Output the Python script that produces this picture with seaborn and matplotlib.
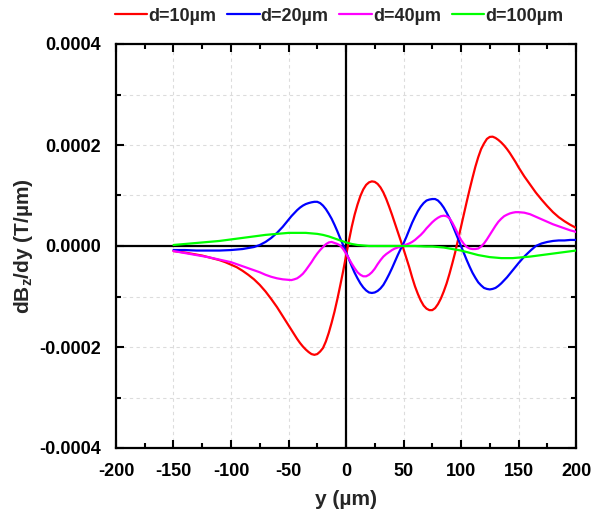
import numpy as np
import pandas as pd
import matplotlib
matplotlib.use("Agg")
import matplotlib.pyplot as plt
import seaborn as sns
from matplotlib.ticker import MultipleLocator, FuncFormatter

# ---- data (values in units of 1e-4 T/um) ----
x_um = [-150, -145, -140, -135, -130, -125, -120, -115, -110, -105,
        -100, -95, -90, -85, -80, -75, -70, -65, -60, -55,
        -50, -47.5, -45, -42.5, -40, -37.5, -35, -32.5, -30, -27.5,
        -25, -22.5, -20, -17.5, -15, -12.5, -10, -7.5, -5, -2.5,
        0, 2.5, 5, 7.5, 10, 12.5, 15, 17.5, 20, 22.5,
        25, 27.5, 30, 32.5, 35, 37.5, 40, 42.5, 45, 47.5,
        50, 52.5, 55, 57.5, 60, 62.5, 65, 67.5, 70, 72.5,
        75, 77.5, 80, 82.5, 85, 87.5, 90, 92.5, 95, 97.5,
        100, 102.5, 105, 107.5, 110, 112.5, 115, 117.5, 120, 122.5,
        125, 127.5, 130, 132.5, 135, 137.5, 140, 142.5, 145, 147.5,
        150, 155, 160, 165, 170, 175, 180, 185, 190, 195, 200]

d10 = [-0.10, -0.115, -0.13, -0.15, -0.17, -0.19, -0.22, -0.25, -0.28, -0.32,
       -0.37, -0.42, -0.49, -0.57, -0.66, -0.77, -0.90, -1.05, -1.21, -1.39,
       -1.57, -1.66, -1.75, -1.84, -1.92, -1.99, -2.05, -2.10, -2.14, -2.155,
       -2.14, -2.09, -2.02, -1.89, -1.72, -1.52, -1.30, -1.05, -0.78, -0.50,
       -0.20, 0.10, 0.38, 0.62, 0.82, 0.99, 1.12, 1.21, 1.26, 1.28,
       1.27, 1.23, 1.16, 1.06, 0.93, 0.78, 0.62, 0.45, 0.28, 0.11,
       -0.06, -0.24, -0.42, -0.62, -0.80, -0.95, -1.08, -1.18, -1.24, -1.27,
       -1.27, -1.23, -1.15, -1.04, -0.90, -0.74, -0.55, -0.34, -0.12, 0.13,
       0.38, 0.63, 0.88, 1.12, 1.35, 1.57, 1.76, 1.92, 2.03, 2.12,
       2.16, 2.165, 2.14, 2.10, 2.05, 1.99, 1.92, 1.84, 1.75, 1.66,
       1.56, 1.38, 1.22, 1.06, 0.92, 0.79, 0.67, 0.57, 0.49, 0.42, 0.36]

d20 = [-0.08, -0.08, -0.08, -0.085, -0.09, -0.09, -0.09, -0.09, -0.09, -0.085,
       -0.08, -0.07, -0.06, -0.04, -0.02, 0.02, 0.08, 0.16, 0.26, 0.38,
       0.52, 0.59, 0.65, 0.71, 0.76, 0.80, 0.83, 0.85, 0.865, 0.875,
       0.875, 0.85, 0.80, 0.73, 0.64, 0.54, 0.42, 0.29, 0.15, 0.02,
       -0.12, -0.26, -0.40, -0.53, -0.64, -0.74, -0.82, -0.88, -0.92, -0.93,
       -0.92, -0.89, -0.84, -0.77, -0.67, -0.56, -0.44, -0.31, -0.18, -0.06,
       0.05, 0.18, 0.32, 0.46, 0.58, 0.69, 0.78, 0.85, 0.90, 0.92,
       0.93, 0.93, 0.90, 0.84, 0.76, 0.66, 0.55, 0.42, 0.28, 0.14,
       0.00, -0.14, -0.28, -0.41, -0.53, -0.63, -0.72, -0.78, -0.83, -0.85,
       -0.86, -0.85, -0.83, -0.79, -0.74, -0.68, -0.62, -0.55, -0.48, -0.41,
       -0.34, -0.21, -0.10, 0.00, 0.05, 0.08, 0.10, 0.11, 0.11, 0.12, 0.12]

d40 = [-0.10, -0.12, -0.14, -0.16, -0.18, -0.20, -0.22, -0.245, -0.27, -0.295,
       -0.32, -0.36, -0.40, -0.44, -0.48, -0.52, -0.57, -0.61, -0.64, -0.66,
       -0.67, -0.675, -0.66, -0.64, -0.60, -0.55, -0.48, -0.40, -0.32, -0.23,
       -0.15, -0.08, -0.02, 0.035, 0.07, 0.08, 0.06, 0.04, 0.01, -0.06,
       -0.15, -0.25, -0.35, -0.44, -0.52, -0.57, -0.60, -0.60, -0.57, -0.52,
       -0.45, -0.36, -0.28, -0.21, -0.16, -0.12, -0.08, -0.05, -0.03, -0.01,
       0.01, 0.03, 0.05, 0.08, 0.12, 0.17, 0.22, 0.28, 0.35, 0.41,
       0.47, 0.52, 0.56, 0.59, 0.60, 0.59, 0.55, 0.46, 0.35, 0.23,
       0.12, 0.04, -0.02, -0.05, -0.06, -0.06, -0.05, -0.01, 0.05, 0.13,
       0.22, 0.31, 0.40, 0.48, 0.54, 0.59, 0.62, 0.645, 0.66, 0.67,
       0.67, 0.66, 0.63, 0.58, 0.53, 0.48, 0.43, 0.39, 0.35, 0.31, 0.28]

d100 = [0.02, 0.03, 0.04, 0.05, 0.06, 0.07, 0.08, 0.09, 0.10, 0.115,
        0.13, 0.145, 0.16, 0.175, 0.19, 0.205, 0.22, 0.23, 0.24, 0.25,
        0.26, 0.26, 0.26, 0.26, 0.26, 0.26, 0.26, 0.255, 0.25, 0.245,
        0.24, 0.23, 0.22, 0.205, 0.19, 0.17, 0.15, 0.13, 0.11, 0.09,
        0.07, 0.055, 0.04, 0.03, 0.02, 0.015, 0.01, 0.005, 0.00, 0.00,
        0.00, 0.00, 0.00, 0.00, 0.00, 0.00, 0.00, 0.00, 0.00, 0.00,
        0.00, 0.00, 0.00, 0.00, 0.00, -0.003, -0.005, -0.008, -0.01, -0.01,
        -0.01, -0.015, -0.02, -0.025, -0.03, -0.04, -0.05, -0.06, -0.07, -0.08,
        -0.09, -0.105, -0.12, -0.135, -0.15, -0.165, -0.18, -0.19, -0.20, -0.21,
        -0.22, -0.225, -0.23, -0.235, -0.24, -0.24, -0.24, -0.24, -0.24, -0.235,
        -0.23, -0.22, -0.21, -0.195, -0.18, -0.165, -0.15, -0.135, -0.12, -0.105, -0.09]

labels = ["d=10µm", "d=20µm", "d=40µm", "d=100µm"]
colors = ["#ff0000", "#0000ff", "#ff00ff", "#00ff00"]
scale = 1e-4

frames = []
for lab, vals in zip(labels, [d10, d20, d40, d100]):
    assert len(vals) == len(x_um), (lab, len(vals), len(x_um))
    frames.append(pd.DataFrame({"y": x_um, "dBdy": np.array(vals) * scale, "d": lab}))
df = pd.concat(frames, ignore_index=True)

sns.set_theme(style="white")
plt.rcParams["font.family"] = ["Liberation Sans", "DejaVu Sans"]
plt.rcParams["font.weight"] = "bold"
plt.rcParams["mathtext.fontset"] = "custom"
plt.rcParams["mathtext.rm"] = "Liberation Sans:bold"
plt.rcParams["mathtext.bf"] = "Liberation Sans:bold"
plt.rcParams["mathtext.it"] = "Liberation Sans:bold"

fig = plt.figure(figsize=(5.93, 5.22), dpi=100)
ax = fig.add_axes([116/593, 1 - 448/522, 460/593, 404/522])

ax.set_xlim(-200, 200)
ax.set_ylim(-0.0004, 0.0004)
ax.xaxis.set_major_locator(MultipleLocator(50))
ax.xaxis.set_minor_locator(MultipleLocator(25))
ax.yaxis.set_major_locator(MultipleLocator(0.0002))
ax.yaxis.set_minor_locator(MultipleLocator(0.0001))

ax.grid(True, which="major", axis="x", color="#dcdcdc", linestyle=(0, (3, 3)), linewidth=0.8)
ax.grid(True, which="both", axis="y", color="#dcdcdc", linestyle=(0, (3, 3)), linewidth=0.8)
ax.set_axisbelow(True)

ax.axhline(0, color="black", linewidth=1.6, zorder=1.5)
ax.axvline(0, color="black", linewidth=1.6, zorder=1.5)

sns.lineplot(data=df, x="y", y="dBdy", hue="d", palette=colors, hue_order=labels,
             linewidth=1.6, ax=ax, sort=False, estimator=None, zorder=3)
for ln in ax.get_lines():
    ln.set_solid_joinstyle("round")

def yfmt(v, pos):
    s = f"{v:.4f}"
    if abs(v) < 1e-12:
        s = "0.0000"
    return s.replace("\u2212", "-")

def xfmt(v, pos):
    return f"{int(round(v))}"

ax.yaxis.set_major_formatter(FuncFormatter(yfmt))
ax.xaxis.set_major_formatter(FuncFormatter(xfmt))

ax.tick_params(which="both", direction="in", top=True, right=True, bottom=True, left=True,
               labelsize=13, width=1.5, colors="black")
ax.tick_params(which="major", length=6, pad=11)
ax.tick_params(which="minor", length=3.5)
for t in ax.get_xticklabels() + ax.get_yticklabels():
    t.set_fontweight("bold")
for sp in ax.spines.values():
    sp.set_color("black")
    sp.set_linewidth(1.6)

ax.set_xlabel("y (µm)", fontsize=15, fontweight="bold", labelpad=7)
ax.set_ylabel(r"dB$_\mathrm{z}$/dy (T/µm)", fontsize=15, fontweight="bold", labelpad=3)

sns.move_legend(ax, "center", bbox_to_anchor=(0.485, 1.069), ncol=4, frameon=False,
                title=None, fontsize=13, handlelength=1.8, handletextpad=0.05,
                columnspacing=0.6, borderaxespad=0.0)
for t in ax.get_legend().get_texts():
    t.set_fontweight("bold")

fig.savefig("out.png", dpi=100, facecolor="white")
